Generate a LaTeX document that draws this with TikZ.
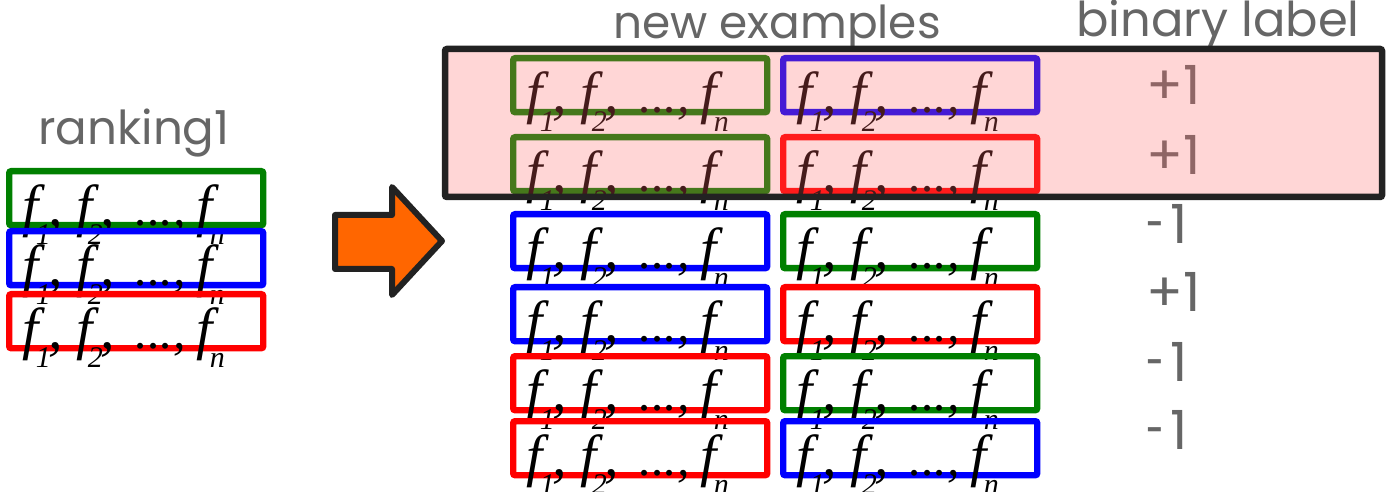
\documentclass[tikz,border=0pt]{standalone}
\usepackage{fontspec}
\setmainfont{Poppins}
\newfontfamily\fserif{Liberation Serif}
\usetikzlibrary{positioning}

\definecolor{boxgreen}{RGB}{0,128,0}
\definecolor{labgray}{RGB}{102,102,102}
\definecolor{arrorange}{RGB}{255,102,0}
\definecolor{edgedark}{RGB}{34,34,34}

% feature vector f_1, f_2, ..., f_n (pieces set at fixed offsets)
\newcommand{\fat}[2]{\makebox[0pt][l]{\hspace{#1}#2}}
\newcommand{\fsub}[1]{\lower9.5pt\hbox{\fontsize{15}{15}\selectfont #1}}
\newcommand{\flist}{{\fserif\itshape
  \fat{0pt}{f}\fat{6.5pt}{\fsub{1}}\fat{12.8pt}{,}%
  \fat{27pt}{f}\fat{32.5pt}{\fsub{2}}\fat{38.8pt}{,}%
  \fat{56.5pt}{\fontsize{25}{30}\selectfont...,}\fat{87pt}{f}\fat{93.5pt}{\fsub{n}}}}
\newcommand{\shorthy}{\scalebox{0.6}[1]{-}\hspace{3pt}}

\begin{document}
\begin{tikzpicture}[
  x=0.5pt, y=-0.5pt,
  fbox/.style={draw=#1, line width=3.2pt, rounded corners=1pt, inner sep=0pt,
               minimum width=127pt, minimum height=27pt, anchor=north west},
  ftext/.style={anchor=base west, inner sep=0pt, font=\fontsize{29}{34}\selectfont},
  head/.style={text=labgray, inner sep=0pt, anchor=base},
  lab/.style={text=labgray, inner sep=0pt, anchor=base west, font=\fontsize{27}{32}\selectfont},
  pinkbox/.style={draw=edgedark, line width=3.25pt, fill=red!60, fill opacity=0.27,
                  rounded corners=1pt},
  bigarrow/.style={draw=edgedark, line width=3pt, fill=arrorange, line join=round}
]
\useasboundingbox (0,0) rectangle (1389,492);
% ----- ranking, left column -----
\node[head, font=\fontsize{23.4}{28}\selectfont] (rank) at (134,145) {ranking1};
\foreach \n/\c/\y in {l1/boxgreen/168, l2/blue/228, l3/red/291}{
  \node[fbox=\c] (\n) at (6,\y) {};
  \node[ftext] (\n-t) at ([xshift=7.75pt, yshift=1.5pt]\n.south west) {\flist};
}
% ----- arrow -----
\draw[bigarrow] (335,215) -- (392,215) -- (392,187) -- (442,241) -- (392,295)
  -- (392,269) -- (335,269) -- cycle;
% ----- pairs, right columns -----
\node[head, font=\fontsize{22.7}{27}\selectfont] (newex) at (777,39) {new examples};
\node[head, font=\fontsize{24}{28}\selectfont] (binlab) at (1218,37) {binary label};
\foreach \n/\ca/\cb/\y/\b/\v in {r1/boxgreen/blue/55/105/+1, r2/boxgreen/red/134/175/+1,
    r3/blue/boxgreen/211/243/{\shorthy1}, r4/blue/red/284/312/+1,
    r5/red/boxgreen/353/381/{\shorthy1}, r6/red/blue/418/449/{\shorthy1}}{
  \node[fbox=\ca] (\n a) at (510,\y) {};
  \node[ftext] (\n a-t) at ([xshift=7.75pt, yshift=1.5pt]\n a.south west) {\flist};
  \node[fbox=\cb] (\n b) at (780,\y) {};
  \node[ftext] (\n b-t) at ([xshift=7.75pt, yshift=1.5pt]\n b.south west) {\flist};
  \node[lab] (\n-lab) at (1146,\b) {\v};
}
% ----- pairs that agree with the ranking -----
\draw[pinkbox] (445,49) rectangle (1382,197);
\end{tikzpicture}
\end{document}
